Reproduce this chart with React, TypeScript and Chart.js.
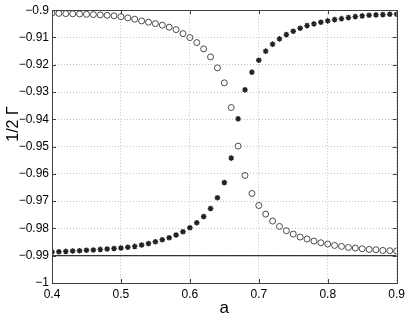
import React, { useEffect, useRef } from "react";
import { Chart, registerables } from "chart.js";

Chart.register(...registerables);

const aValues = [
  0.4, 0.41, 0.42, 0.43, 0.44, 0.45, 0.46, 0.47, 0.48, 0.49,
  0.5, 0.51, 0.52, 0.53, 0.54, 0.55, 0.56, 0.57, 0.58, 0.59,
  0.6, 0.61, 0.62, 0.63, 0.64, 0.65, 0.66, 0.67, 0.68, 0.69,
  0.7, 0.71, 0.72, 0.73, 0.74, 0.75, 0.76, 0.77, 0.78, 0.79,
  0.8, 0.81, 0.82, 0.83, 0.84, 0.85, 0.86, 0.87, 0.88, 0.89, 0.9,
];

const circleSeries = [
  -0.9011, -0.90117, -0.90125, -0.90132, -0.90139, -0.9015, -0.90161, -0.90172, -0.90187, -0.90205,
  -0.90238, -0.90282, -0.9033, -0.90392, -0.9044, -0.90491, -0.90549, -0.90623, -0.90711, -0.90857,
  -0.91004, -0.91187, -0.91418, -0.91711, -0.92114, -0.92663, -0.93568, -0.94982, -0.96059, -0.96718,
  -0.97158, -0.97473, -0.97729, -0.97927, -0.98084, -0.98205, -0.98315, -0.98388, -0.98462, -0.98524,
  -0.98571, -0.98623, -0.98659, -0.98696, -0.98718, -0.98744, -0.98769, -0.9878, -0.98806, -0.98817, -0.98828,
];

const starSeries = [
  -0.98864, -0.98853, -0.98842, -0.98828, -0.98817, -0.98802, -0.98788, -0.98769, -0.98751, -0.98736,
  -0.98718, -0.98692, -0.98659, -0.98608, -0.9855, -0.98487, -0.98414, -0.98341, -0.98242, -0.98121,
  -0.97974, -0.97791, -0.97561, -0.97267, -0.96875, -0.96315, -0.95421, -0.93982, -0.92919, -0.92271,
  -0.91832, -0.91502, -0.91245, -0.91051, -0.90894, -0.90769, -0.90659, -0.90564, -0.90502, -0.9044,
  -0.90392, -0.90344, -0.90308, -0.90271, -0.90234, -0.90209, -0.90183, -0.90172, -0.90161, -0.90147, -0.90147,
];

const refLineX = [0.4, 0.9];
const refLineY = [-0.99, -0.99];

const xTickLabels = ["0.4", "0.5", "0.6", "0.7", "0.8", "0.9"];
const yTickLabels = [
  "\u22121", "\u22120.99", "\u22120.98", "\u22120.97", "\u22120.96", "\u22120.95",
  "\u22120.94", "\u22120.93", "\u22120.92", "\u22120.91", "\u22120.9",
];

const xLabel = "a";
const yLabel = "1/2 \u0393";

const FONT = "'Liberation Sans', Arial, Helvetica, sans-serif";

const framePlugin = {
  id: "matlabFrame",
  afterDraw(chart: any) {
    const { ctx, chartArea, scales } = chart;
    const { left, right, top, bottom } = chartArea;
    ctx.save();
    ctx.strokeStyle = "#404040";
    ctx.lineWidth = 1;
    ctx.strokeRect(Math.round(left) + 0.5, Math.round(top) + 0.5, Math.round(right - left), Math.round(bottom - top));
    const tl = 4;
    ctx.beginPath();
    scales.x.ticks.forEach((t: any) => {
      const px = Math.round(scales.x.getPixelForValue(t.value)) + 0.5;
      ctx.moveTo(px, bottom);
      ctx.lineTo(px, bottom - tl);
      ctx.moveTo(px, top);
      ctx.lineTo(px, top + tl);
    });
    scales.y.ticks.forEach((t: any) => {
      const py = Math.round(scales.y.getPixelForValue(t.value)) + 0.5;
      ctx.moveTo(left, py);
      ctx.lineTo(left + tl, py);
      ctx.moveTo(right, py);
      ctx.lineTo(right - tl, py);
    });
    ctx.stroke();
    ctx.fillStyle = "#000";
    ctx.font = `17px ${FONT}`;
    ctx.textAlign = "center";
    ctx.textBaseline = "alphabetic";
    ctx.fillText(xLabel, (left + right) / 2, 313);
    ctx.translate(18, 124);
    ctx.rotate(-Math.PI / 2);
    ctx.font = `16px ${FONT}`;
    ctx.fillText(yLabel, 0, 0);
    ctx.restore();
  },
};

export default function App() {
  const ref = useRef<HTMLCanvasElement | null>(null);

  useEffect(() => {
    if (!ref.current) return;
    const chart = new Chart(ref.current, {
      type: "scatter",
      data: {
        datasets: [
          {
            label: "ref",
            type: "line",
            data: refLineX.map((x, i) => ({ x, y: refLineY[i] })),
            borderColor: "#000",
            borderWidth: 1,
            pointRadius: 0,
            showLine: true,
          } as any,
          {
            label: "circles",
            data: aValues.map((x, i) => ({ x, y: circleSeries[i] })),
            pointStyle: "circle",
            pointRadius: 3,
            backgroundColor: "rgba(0,0,0,0)",
            borderColor: "#3a3a3a",
            borderWidth: 0.9,
          },
          {
            label: "stars",
            data: aValues.map((x, i) => ({ x, y: starSeries[i] })),
            pointStyle: "star",
            pointRadius: 2.8,
            backgroundColor: "#222",
            borderColor: "#222",
            borderWidth: 1.4,
          },
        ],
      },
      options: {
        animation: false,
        responsive: false,
        maintainAspectRatio: false,
        layout: { padding: { top: 10, right: 11, left: 0, bottom: 0 } },
        plugins: { legend: { display: false }, tooltip: { enabled: false } },
        scales: {
          x: {
            type: "linear",
            min: 0.4,
            max: 0.9,
            afterBuildTicks: (s: any) => {
              s.ticks = xTickLabels.map((l) => ({ value: parseFloat(l) }));
            },
            afterFit: (s: any) => {
              s.height = 33;
            },
            ticks: {
              callback: (_v: any, i: number) => xTickLabels[i],
              font: { size: 12, family: FONT },
              color: "#000",
              padding: 4,
              maxRotation: 0,
              autoSkip: false,
            },
            grid: { color: "#c4c4c4", lineWidth: 1, drawTicks: false },
            border: { display: false, dash: [1, 2] },
          },
          y: {
            type: "linear",
            min: -1,
            max: -0.9,
            afterBuildTicks: (s: any) => {
              s.ticks = yTickLabels.map((_l, i) => ({ value: -1 + i * 0.01 }));
            },
            afterFit: (s: any) => {
              s.width = 52;
            },
            ticks: {
              callback: (_v: any, i: number) => yTickLabels[i],
              font: { size: 12, family: FONT },
              color: "#000",
              padding: 3,
              autoSkip: false,
            },
            grid: { color: "#c4c4c4", lineWidth: 1, drawTicks: false },
            border: { display: false, dash: [1, 2] },
          },
        },
      },
      plugins: [framePlugin],
    });
    return () => chart.destroy();
  }, []);

  return (
    <div style={{ position: "fixed", left: 0, top: 0, width: 409, height: 316, background: "#fff" }}>
      <canvas ref={ref} width={409} height={316} style={{ width: 409, height: 316, display: "block" }} />
    </div>
  );
}
